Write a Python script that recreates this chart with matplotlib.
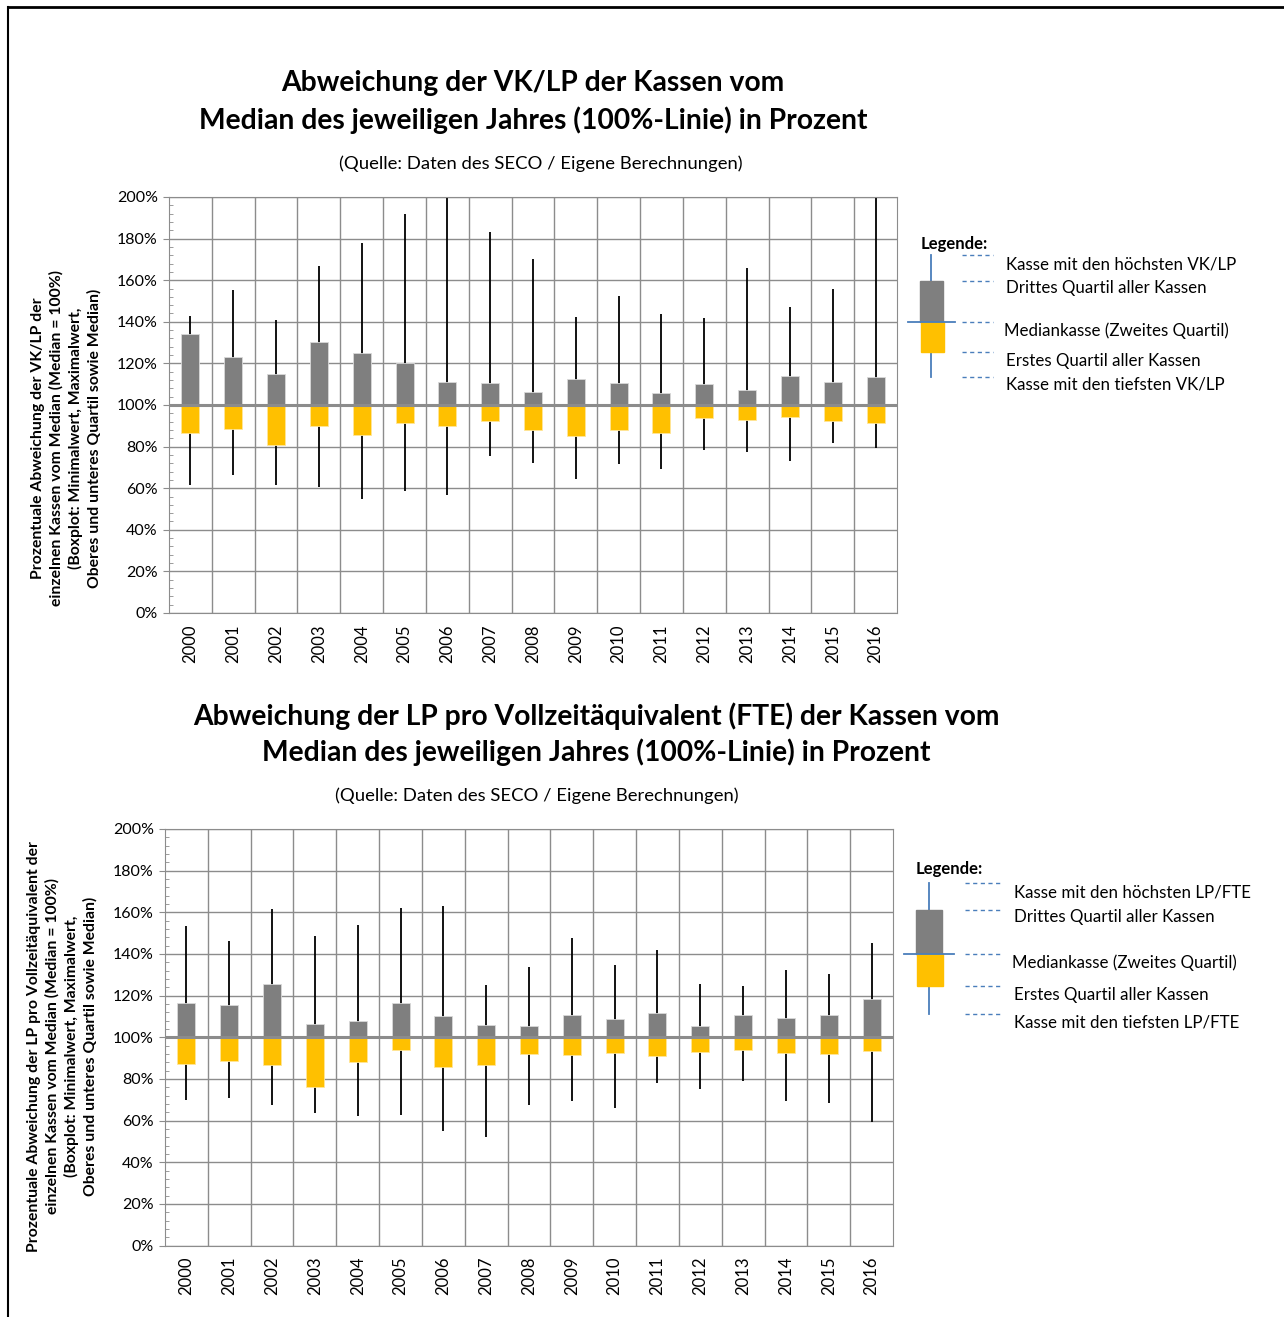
import matplotlib.pyplot as plt
from matplotlib.patches import Rectangle
import numpy as np

plt.rcParams['font.family'] = ['Lato', 'DejaVu Sans']

years = [str(y) for y in range(2000, 2017)]

# Oben: VK/LP (Werte in Prozent vom Median)
vk_max = [143, 155.5, 141, 167, 178, 192, 240, 183, 170, 142.5, 152.5, 143.8, 141.6, 166, 147, 156, 240]
vk_q3 = [134, 123, 115, 130.4, 125, 120, 111, 110.4, 106.4, 112.5, 110.7, 105.8, 110, 107.4, 114, 111, 113.6]
vk_q1 = [86.7, 88.3, 81, 89.8, 85.6, 91.4, 89.8, 92.3, 87.8, 85, 88, 86.7, 93.6, 92.8, 94, 92.3, 91.4]
vk_min = [61.4, 66.4, 61.3, 60.6, 55, 58.6, 56.5, 75.7, 72.3, 64.5, 71.4, 69.3, 78.6, 77.3, 73, 81.6, 79.2]

# Unten: LP pro FTE
fte_max = [153.4, 146, 161.6, 148.8, 153.7, 162, 163, 125, 133.8, 147.7, 134.6, 142, 125.5, 124.7, 132.3, 130.3, 145.3]
fte_q3 = [116.3, 115.3, 125.7, 106.5, 107.9, 116.6, 110, 105.7, 105.3, 110.6, 109, 111.7, 105.6, 110.9, 109.3, 110.6, 118.6]
fte_q1 = [87, 88.4, 86.8, 76.1, 87.9, 93.7, 85.5, 86.5, 91.8, 91.4, 92.6, 91, 93, 93.9, 92.2, 91.8, 93.6]
fte_min = [70, 70.8, 67.7, 63.4, 62.1, 62.8, 55.1, 52, 67.3, 69.4, 66.2, 78.1, 75.3, 79.2, 69.6, 68.6, 59.3]

GRAU = '#7f7f7f'
GELB = '#FFC000'
GITTER = '#8c8c8c'
BLAU = '#4a7ebb'

W, H = 1284, 1317
fig = plt.figure(figsize=(W / 100, H / 100), dpi=100)


def boxplot_panel(rect, vmax, q3, q1, vmin):
    ax = fig.add_axes(rect)
    x = np.arange(len(years))
    ax.vlines(x, vmin, vmax, color='black', lw=1.3, zorder=2)
    ax.bar(x, np.array(q3) - 100, bottom=100, width=0.42, color=GRAU,
           edgecolor='#d9d9d9', lw=0.6, zorder=3)
    ax.bar(x, np.array(q1) - 100, bottom=100, width=0.42, color=GELB,
           edgecolor='#ffe699', lw=0.6, zorder=3)
    ax.axhline(100, color=GITTER, lw=2.2, zorder=4)
    ax.set_xlim(-0.5, len(years) - 0.5)
    ax.set_ylim(0, 200)
    ax.set_yticks(np.arange(0, 201, 20))
    ax.set_yticklabels([f'{v}%' for v in range(0, 201, 20)])
    ax.set_yticks(np.arange(0, 201, 4), minor=True)
    ax.set_xticks(x)
    ax.set_xticklabels(years, rotation=90)
    ax.set_xticks(np.arange(0.5, len(years) - 0.5, 1), minor=True)
    ax.grid(axis='y', which='major', color=GITTER, lw=1, zorder=0)
    ax.grid(axis='x', which='minor', color=GITTER, lw=1, zorder=0)
    ax.set_axisbelow(True)
    ax.tick_params(axis='y', which='major', direction='out', length=4, color=GITTER,
                   labelsize=11.5, pad=4)
    ax.tick_params(axis='y', which='minor', direction='in', length=3, color=GITTER)
    ax.tick_params(axis='x', which='both', length=0, labelsize=12, pad=8)
    for s in ax.spines.values():
        s.set_color(GITTER)
    return ax


boxplot_panel([169 / W, 1 - 613 / H, 728 / W, 416 / H], vk_max, vk_q3, vk_q1, vk_min)
boxplot_panel([165 / W, 1 - 1245.5 / H, 728 / W, 416.5 / H], fte_max, fte_q3, fte_q1, fte_min)

# Ueberlagerung in Pixelkoordinaten fuer Texte, Legenden und Rahmen
ov = fig.add_axes([0, 0, 1, 1], zorder=-1)
ov.set_xlim(0, W)
ov.set_ylim(H, 0)
ov.axis('off')

ov.plot([8, W], [7, 7], color='black', lw=2)
ov.plot([8, 8], [7, H], color='black', lw=1.5)

ov.text(533, 83, 'Abweichung der VK/LP der Kassen vom', ha='center', va='center',
        fontsize=20.3, fontweight='bold')
ov.text(533, 120, 'Median des jeweiligen Jahres (100%-Linie) in Prozent', ha='center',
        va='center', fontsize=20.3, fontweight='bold')
ov.text(541, 164, '(Quelle: Daten des SECO / Eigene Berechnungen)', ha='center',
        va='center', fontsize=13.3)
ov.text(66, 438, 'Prozentuale Abweichung der VK/LP der\neinzelnen Kassen vom Median (Median = 100%)\n'
        '(Boxplot: Minimalwert, Maximalwert,\nOberes und unteres Quartil sowie Median)',
        rotation=90, ha='center', va='center', multialignment='center', fontsize=11.3,
        fontweight='bold', linespacing=1.35)

ov.text(596, 716, 'Abweichung der LP pro Vollzeitäquivalent (FTE) der Kassen vom', ha='center',
        va='center', fontsize=20.3, fontweight='bold')
ov.text(596, 752, 'Median des jeweiligen Jahres (100%-Linie) in Prozent', ha='center',
        va='center', fontsize=20.3, fontweight='bold')
ov.text(537, 796, '(Quelle: Daten des SECO / Eigene Berechnungen)', ha='center',
        va='center', fontsize=13.3)
ov.text(62, 1046, 'Prozentuale Abweichung der LP pro Vollzeitäquivalent der\n'
        'einzelnen Kassen vom Median (Median = 100%)\n'
        '(Boxplot: Minimalwert, Maximalwert,\nOberes und unteres Quartil sowie Median)',
        rotation=90, ha='center', va='center', multialignment='center', fontsize=11.3,
        fontweight='bold', linespacing=1.35)


def legende(x0, ytitle, xw, ylines, box, dash, xtext, labels):
    ov.text(x0, ytitle, 'Legende:', ha='left', va='center', fontsize=12, fontweight='bold')
    ov.plot([xw, xw], [ylines[0], ylines[4]], color=BLAU, lw=1.3)
    bx, bw = box
    ov.add_patch(Rectangle((bx, ylines[1]), bw, ylines[2] - ylines[1], color=GRAU, zorder=3))
    ov.add_patch(Rectangle((bx + 1, ylines[2]), bw, ylines[3] - ylines[2], color=GELB, zorder=3))
    ov.plot([bx - 12, bx + bw + 12], [ylines[2], ylines[2]], color=BLAU, lw=1.3, zorder=4)
    for i, (yl, lab) in enumerate(zip(ylines, labels)):
        ov.plot(dash, [yl, yl], color=BLAU, lw=1, ls=(0, (3, 2.5)))
        dy = [9, 7, 9, 9, 8][i]
        ov.text(xtext - (2 if i == 2 else 0), yl + dy, lab, ha='left', va='center', fontsize=12.2)


legende(921, 244, 931, [255, 281, 322, 352, 377], (920, 23), [962, 993], 1006,
        ['Kasse mit den höchsten VK/LP', 'Drittes Quartil aller Kassen',
         'Mediankasse (Zweites Quartil)', 'Erstes Quartil aller Kassen',
         'Kasse mit den tiefsten VK/LP'])
legende(916, 869, 929, [883, 910, 954, 986, 1014], (916, 26), [965, 1001], 1014,
        ['Kasse mit den höchsten LP/FTE', 'Drittes Quartil aller Kassen',
         'Mediankasse (Zweites Quartil)', 'Erstes Quartil aller Kassen',
         'Kasse mit den tiefsten LP/FTE'])

fig.savefig('out.png', dpi=100)
